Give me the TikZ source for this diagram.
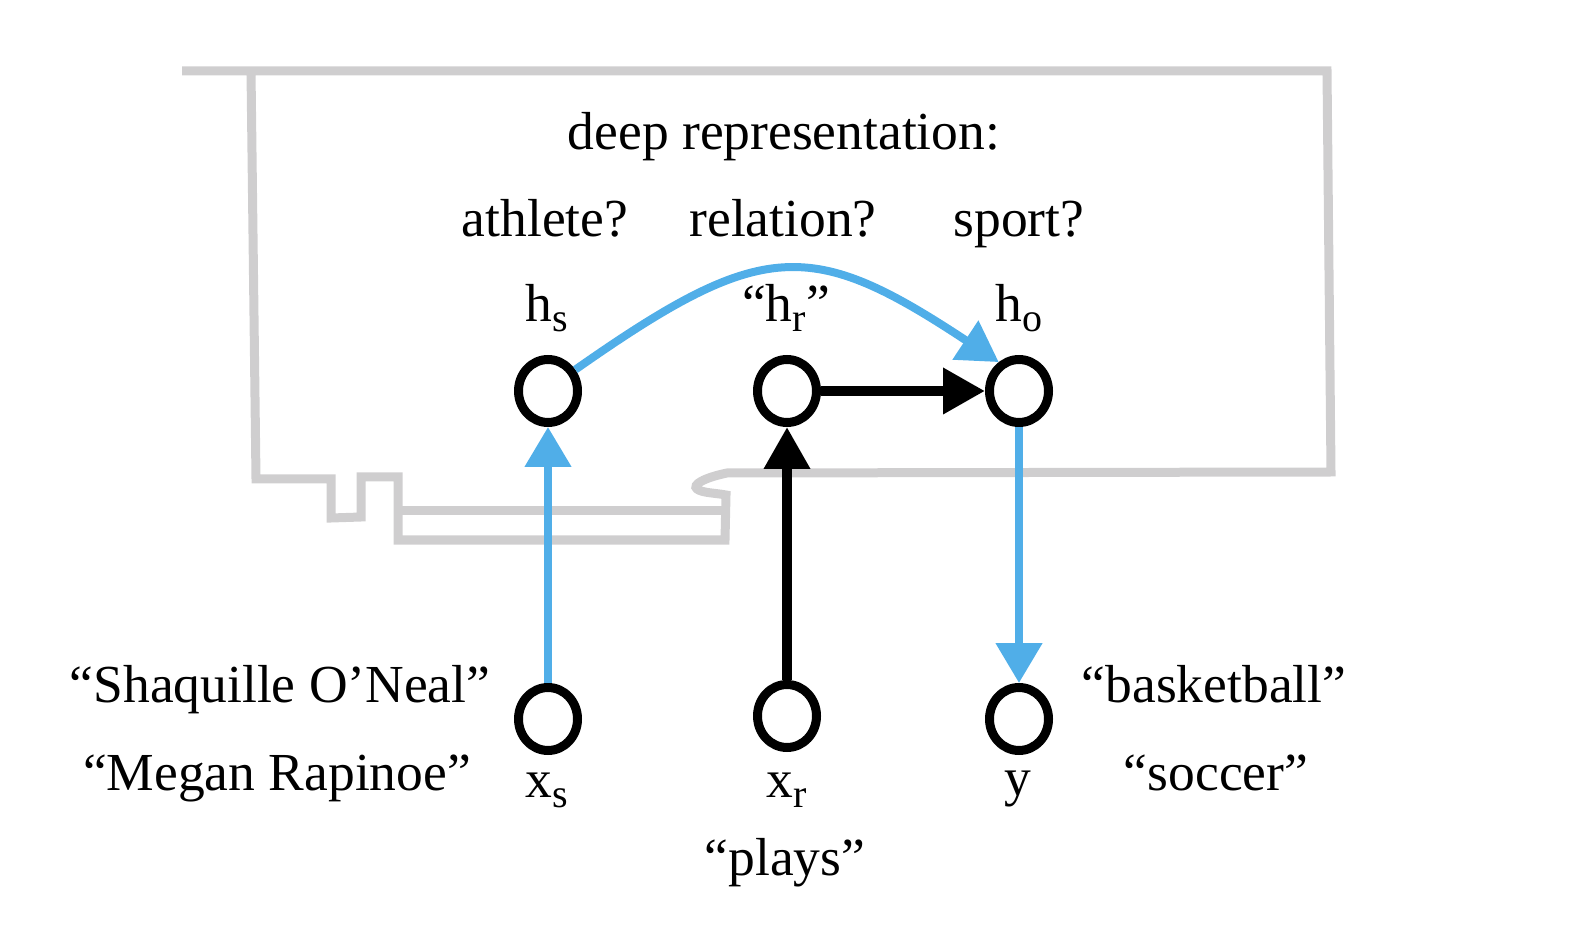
\documentclass[tikz,border=0pt]{standalone}
\usepackage{fontspec}
\setmainfont{Liberation Serif}
\usetikzlibrary{arrows.meta,shapes.geometric}
\definecolor{skyblue}{RGB}{80,174,232}
\definecolor{outlinegray}{RGB}{207,206,207}
\newcommand\subtxt[1]{\raisebox{-5pt}{\fontsize{20}{20}\selectfont #1}}
\begin{document}
\begin{tikzpicture}[x=0.5pt,y=-0.5pt,
  unit/.style={ellipse, draw=black, line width=4.5pt, minimum width=29.5pt, minimum height=31.5pt, inner sep=0pt},
  txt/.style={anchor=base, inner sep=0pt, font=\fontsize{26.75}{32}\selectfont},
  bluearrow/.style={draw=skyblue, line width=4pt, -{Triangle[length=20pt,width=22.5pt]}},
  blackarrow/.style={draw=black, line width=5pt, -{Triangle[length=21pt,width=22pt]}},
  outline/.style={draw=outlinegray, line width=4.5pt, line join=miter}]
\useasboundingbox (0,0) rectangle (1580,930);
% grey outline of the deep representation
\draw[outline] (182,71) -- (1327,71) -- (1331,472) -- (727,473)
  .. controls (703,478) and (692,485) .. (697,489)
  .. controls (702,493) and (716,493) .. (726,495)
  -- (725,540) -- (398,540) -- (398,477) -- (361,477) -- (361,517)
  -- (331,518) -- (331,479) -- (256,479) -- (251,71);
\draw[outline] (398,511) -- (725,511);
% units
\node[unit] (hs) at (548,391) {};
\node[unit] (hr) at (787,391) {};
\node[unit] (ho) at (1019,391) {};
\node[unit] (xs) at (548,719) {};
\node[unit] (xr) at (787,716) {};
\node[unit] (yy) at (1019,719) {};
% texts
\node[txt] (title) at (784,150) {deep representation:};
\node[txt] (athlete) at (545,237) {athlete?};
\node[txt] (relation) at (783,237) {relation?};
\node[txt] (sport) at (1019,237) {sport?};
\node[txt] (lhs) at (547,322) {h\subtxt{s}};
\node[txt] (lhr) at (786,322) {“h\subtxt{r}”};
\node[txt] (lho) at (1019,322) {h\subtxt{o}};
\node[txt] (lxs) at (547,797) {x\subtxt{s}};
\node[txt] (lxr) at (787,797) {x\subtxt{r}};
\node[txt] (ly) at (1018,795) {y};
\node[txt] (shaq) at (280,702) {“Shaquille O’Neal”};
\node[txt] (megan) at (277,790) {“Megan Rapinoe”};
\node[txt] (bball) at (1214,702) {“basketball”};
\node[txt] (soccer) at (1216,790) {“soccer”};
\node[txt] (plays) at (785,875) {“plays”};
% connectors
\draw[bluearrow] (xs) -- (hs);
\draw[blackarrow] (xr) -- (hr);
\draw[blackarrow] (hr) -- (ho);
\draw[bluearrow] (ho) -- (yy);
\draw[bluearrow] (hs.38) .. controls (763,238) and (811,238) .. (ho.125);
\end{tikzpicture}
\end{document}
